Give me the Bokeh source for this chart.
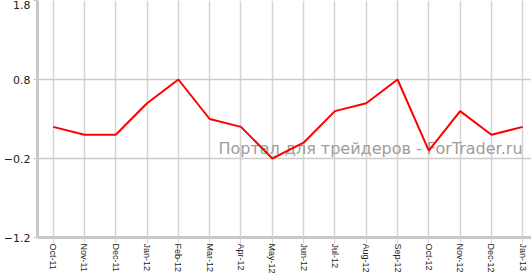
from bokeh.plotting import figure
from bokeh.models import FixedTicker, Range1d, Label
from bokeh.embed import file_html
from bokeh.resources import INLINE

months = ["Oct-11", "Nov-11", "Dec-11", "Jan-12", "Feb-12", "Mar-12", "Apr-12", "May-12",
          "Jun-12", "Jul-12", "Aug-12", "Sep-12", "Oct-12", "Nov-12", "Dec-12", "Jan-13"]
values = [0.2, 0.1, 0.1, 0.5, 0.8, 0.3, 0.2, -0.2, 0.0, 0.4, 0.5, 0.8, -0.1, 0.4, 0.1, 0.2]
y_ticks = [-1.2, -0.2, 0.8, 1.8]
watermark = "Портал для трейдеров - ForTrader.ru"

xs = list(range(len(months)))

p = figure(width=531, height=276, output_backend="svg", toolbar_location=None,
           x_range=Range1d(-0.5, 15.28), y_range=Range1d(-1.2, 1.8),
           min_border_left=32, min_border_right=0, min_border_top=0, min_border_bottom=38)
p.outline_line_color = None
p.background_fill_color = "white"
p.border_fill_color = "white"

p.line(xs, values, line_color="#ff0000", line_width=2)

# axes
p.xaxis.ticker = FixedTicker(ticks=xs)
p.xaxis.major_label_overrides = {i: m for i, m in enumerate(months)}
p.xaxis.major_label_orientation = "vertical"
p.xaxis.major_label_text_font = "Liberation Sans"
p.xaxis.major_label_text_font_size = "9px"
p.xaxis.major_label_text_color = "#222222"
p.xaxis.major_label_standoff = 0
p.xaxis.axis_line_color = "#c8c8c8"
p.xaxis.axis_line_width = 3
p.xaxis.major_tick_line_color = "#d4d4d4"
p.xaxis.major_tick_out = 6
p.xaxis.major_tick_in = 0
p.xaxis.minor_tick_line_color = None

p.yaxis.ticker = FixedTicker(ticks=y_ticks)
p.yaxis.major_label_text_font = "DejaVu Sans"
p.yaxis.major_label_text_font_size = "11px"
p.yaxis.major_label_text_color = "#222222"
p.yaxis.major_label_standoff = 3
p.yaxis.axis_line_color = "#c8c8c8"
p.yaxis.axis_line_width = 3
p.yaxis.major_tick_line_color = "#c8c8c8"
p.yaxis.major_tick_out = 4
p.yaxis.major_tick_in = 0
p.yaxis.minor_tick_line_color = None

p.xgrid.ticker = FixedTicker(ticks=xs)
p.ygrid.ticker = FixedTicker(ticks=y_ticks)
p.xgrid.grid_line_color = "#d4d4d4"
p.xgrid.grid_line_width = 1.5
p.ygrid.grid_line_color = "#cccccc"
p.ygrid.grid_line_width = 1.5

wm = Label(x=5.28, y=-0.07, text=watermark, text_align="left", text_baseline="middle",
           text_font="DejaVu Sans", text_font_size="16px", text_color="#a39b99",
           level="underlay")
p.add_layout(wm)

open("out.html", "w").write(file_html(p, INLINE))
